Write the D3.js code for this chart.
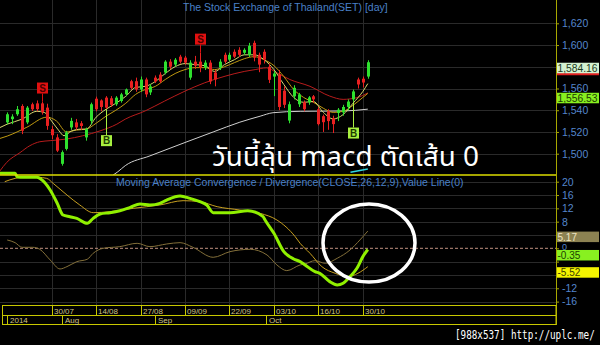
<!DOCTYPE html>
<html>
<head>
<meta charset="utf-8">
<script src="https://cdn.jsdelivr.net/npm/d3@7"></script>
<style>
body{margin:0;background:#000;}
svg{display:block;font-family:Arial,"Liberation Sans",sans-serif;}
</style>
</head>
<body>
<div id="chart"></div>
<script>
// daily candles, bar 0 = 17/07/2014 ... bar 73 = 31/10/2014
var open  = [1528.8,1531.8,1536.3,1543.9,1528.8,1545.5,1546.3,1546.3,1542.4,1522.6,1515,1490.7,1504.4,1524.2,1528.8,1528,1515,1530.2,1550.6,1549,
             1551.6,1551,1545.5,1548.5,1554.6,1566.7,1566.7,1559.1,1568.3,1556.4,1570,1572.8,1574.7,1584.7,1582,1589.3,1588.4,1570,1584.7,1584.7,
             1579.2,1583.8,1574.7,1579.2,1591,1586.5,1593.8,1595.6,1592.9,1591,1602,1591,1593.8,1580,1571,1573,1558,1530.5,1552.8,1545.5,
             1547.3,1547.3,1552.8,1540.9,1534.5,1539,1532.7,1537.5,1538,1543,1550,1568.3,1569,1571];
var high  = [1538,1536.3,1543.9,1545.5,1543.9,1547,1549,1548,1546,1525.6,1518,1503,1521,1533,1532,1530,1524,1547,1552.5,1550,
             1553,1553,1553,1556,1560,1568,1570,1571,1570,1564,1572,1575,1586,1587,1588,1591,1590,1586,1590,1593,
             1586,1586,1577,1587,1593,1593,1596,1598,1597,1602,1604,1593,1596,1583,1576,1577,1562,1548,1563,1556,
             1549,1553,1554,1543,1536,1541,1535,1542,1545,1550,1559,1570,1571,1586];
var low   = [1527,1527.2,1534.8,1518,1527.2,1539.3,1539,1536,1522,1513.5,1501.5,1489,1503,1522,1522,1522,1512,1527,1539,1539,
             1541,1543,1544,1547,1553,1559,1557,1557,1552,1554,1565,1565,1573,1578,1580,1583,1582,1568,1578,1575,
             1577,1564,1562,1577,1583,1585,1588,1589,1591,1589,1585,1575,1583,1565,1553,1540,1542,1528,1550,1543,
             1539,1545,1547,1526,1520,1522,1519,1530,1535,1540,1548,1560,1561,1569];
var close = [1536.3,1534.2,1540.9,1521.1,1542.4,1540.9,1541,1538.3,1525.6,1517,1502.8,1501.4,1519.6,1530.2,1524.2,1525.5,1522.6,1545.5,1540.9,1543,
             1542.4,1545,1551.6,1554.6,1559.1,1560.6,1559.1,1568.3,1554.6,1561.9,1566.5,1566.5,1584.7,1580,1586.5,1584.7,1583.8,1583.8,1581,1579.2,
             1583.8,1566.5,1568.3,1584.7,1584.7,1591,1589.3,1591,1595.6,1599.3,1588.4,1582,1586.5,1568,1573.8,1543,1545,1545.5,1560.6,1554.6,
             1540.9,1551.8,1550,1527.2,1529,1530,1527.2,1540.5,1543,1548,1557.3,1563.7,1565.5,1584.16];

// moving averages as [bar, value]
var ma5 = [[-1.5,1524],[0,1527.2],[3,1531.8],[6,1539],[7.5,1538],[9,1530],[10.5,1521],[11.5,1516.5],[13,1520.8],[15,1522.6],[16,1522.6],
           [18,1533.6],[20,1540.9],[22,1546.4],[24,1552.8],[26,1561],[28,1562],[30,1566.5],[32,1573.8],[34,1580.1],[36,1582.9],[38,1582],
           [40,1581],[42,1575.6],[44,1582],[46,1586.5],[48,1591],[50,1591],[52,1586.5],[54,1577.4],[56,1563.7],[58,1551.8],[60,1547.3],
           [62,1548],[64,1538],[66,1532],[68,1536],[70,1546.4],[72,1557.3],[73,1564.5]];
var ma10 = [[-1.5,1514],[0,1516.2],[4,1524.4],[8,1533.6],[10,1530],[12,1520],[14,1521.7],[16,1522.6],[18,1528],[20,1534.5],[22,1540],
            [24,1546.4],[26,1554.6],[28,1559.1],[30,1562],[32,1568.3],[34,1573.8],[36,1577.4],[38,1579.2],[40,1579.2],[42,1577.4],[44,1580.1],
            [46,1583.8],[48,1587.4],[50,1589.3],[52,1586.5],[54,1581],[56,1571],[58,1559.1],[60,1551.8],[62,1547.3],[64,1541.8],[66,1538],
            [68,1539],[70,1544.5],[72,1551.8],[73,1555.5]];
var ma25 = [[-1.5,1484],[-0.1,1492],[2.6,1501],[4.6,1507.4],[6.6,1511],[8.7,1512],[12,1513.5],[15.3,1516.5],[18.8,1521],[22.2,1527.2],
            [23.9,1531.8],[27.9,1539.3],[31.9,1548.5],[36,1557.6],[40,1565.3],[44.1,1571.3],[48.1,1575.8],[50.2,1577.4],[52.5,1579],
            [54.6,1574.4],[57.2,1568.3],[61.3,1562],[65.3,1553],[68,1550],[70.8,1551.6],[73,1556]];
var ma75 = [[20,1476],[22.4,1483.4],[23.9,1489],[28.9,1498],[36.4,1511],[41.7,1520],[47.1,1529],[51.2,1534.5],[53.8,1537.7],
            [59.3,1539],[68,1539.3],[73,1541]];
var cyanLine = [[69.5,1483],[73,1486]];

// MACD(26,12,9) as [bar, value]
var macd = [[-1.5,22.5],[1.6,22.5],[2,21.5],[2.6,21.3],[6,21.3],[6.6,21],[8.7,17.5],[10.1,13.6],[11.3,10],[12.7,9.5],[14.1,9],[16.2,7.5],
            [17.4,9],[18.8,10.3],[20.8,10.7],[22.8,11.3],[24.9,12.3],[26.9,13.3],[28.9,13],[30.9,13.5],[32.3,14.5],[35,15.7],[37,15],
            [39,14],[40.4,13],[41.7,10.7],[45.1,10.7],[48.7,11.3],[51.8,9.5],[52.2,8.5],[54,4.5],[56,-1],[58,-3.2],[59.3,-4],[60.3,-5],
            [62.3,-7],[63.3,-7.5],[65.3,-10],[66.8,-11],[68,-10.5],[69.4,-8.5],[70.8,-6],[72,-2.5],[73,-0.35]];
var signal = [[-0.5,20],[1.6,21],[4.6,21.5],[8,21],[9.3,19.5],[12.1,16],[14.7,13],[17.4,10.7],[20.8,11],[25.5,12],[30.9,13],[35.6,14.3],
              [39,14],[42.5,12.5],[47.1,11.5],[51.2,10.5],[54.6,8.5],[58.3,3.5],[59.3,1.5],[61.3,-1.5],[63.7,-5.5],[66.4,-7.5],[69,-8.5],
              [71,-7.5],[73,-5.52]];
var hist = [[0,2.5],[1.6,1.7],[3,0.3],[5.2,0.3],[6.6,-0.3],[8.7,-3.5],[10.7,-6.2],[12.1,-5.5],[14.1,-4],[16.2,-3.3],[17.4,-1.5],[19.4,0],
            [22.8,0.5],[26.3,1.5],[28.9,0.5],[32.3,1.3],[35,1.7],[37.6,0.3],[41.7,-2.7],[45.1,-1],[49.2,-0.3],[52.6,-2],[54.6,-5],
            [56.6,-6.7],[59.3,-5],[60.3,-4.7],[62.3,-3.7],[64.4,-4.5],[66.8,-3],[69.4,-0.5],[71.4,2.5],[73,5.17]];

var signals = [{i:7,t:'S'},{i:20,t:'B'},{i:39,t:'S'},{i:70,t:'B'}];

var dateTicks = [9,18,27,36,45,54,63,72];
var dateLabels = ['30/07','14/08','27/08','09/09','22/09','03/10','16/10','30/10'];
var monthTicks = [-0.1,11,30,52.3];
var monthLabels = ['2014','Aug','Sep','Oct'];
var priceTicks = [1500,1520,1540,1560,1580,1600,1620];
var macdTicks = [20,16,12,8,4,0,-4,-8,-12,-16];
// tick labels covered by the last-value boxes
var hiddenTicks = [1580,4,-4,-8];

var priceLabels = [{v:1584.16,txt:'1,584.16',bg:'#d4f2d0',fg:'#1c3a1c'},{v:1556.53,txt:'1,556.53',bg:'#88f020',fg:'#1c3a00'}];
var macdLabels = [{v:5.17,txt:'5.17',bg:'#8c8252',fg:'#ece4c4'},{v:-0.35,txt:'-0.35',bg:'#88f020',fg:'#1c4000'},{v:-5.52,txt:'-5.52',bg:'#f4f400',fg:'#3c3c00'}];

var W = 600, H = 345, axisX = 556;

var svg = d3.select('#chart').append('svg')
  .attr('width', W)
  .attr('height', H);

svg.append('rect').attr('width', W).attr('height', H).attr('fill', '#000');

var x = d3.scaleLinear().domain([0, 73]).range([7.2, 367.8]);
var yP = d3.scaleLinear().domain([1500, 1620]).range([153.7, 23.3]);
var yM = d3.scaleLinear().domain([-16, 20]).range([301.6, 181.7]);

var defs = svg.append('defs');
defs.append('clipPath').attr('id', 'clipTop')
  .append('rect').attr('x', 0).attr('y', 0).attr('width', axisX).attr('height', 175);
defs.append('clipPath').attr('id', 'clipBot')
  .append('rect').attr('x', 0).attr('y', 171).attr('width', axisX).attr('height', 134);

// grid
var grid = svg.append('g').attr('stroke', '#2a2a2a').attr('stroke-width', 1);
grid.selectAll('.hp').data(priceTicks).enter().append('line')
  .attr('x1', 0).attr('x2', axisX)
  .attr('y1', function(d){ return Math.round(yP(d)) + 0.5; })
  .attr('y2', function(d){ return Math.round(yP(d)) + 0.5; });
grid.selectAll('.hm').data(macdTicks.filter(function(d){ return d != 0; })).enter().append('line')
  .attr('x1', 0).attr('x2', axisX)
  .attr('y1', function(d){ return Math.round(yM(d)) + 0.5; })
  .attr('y2', function(d){ return Math.round(yM(d)) + 0.5; });
grid.selectAll('.v').data(dateTicks).enter().append('line')
  .attr('y1', 0).attr('y2', 306)
  .attr('x1', function(d){ return Math.round(x(d)) + 0.5; })
  .attr('x2', function(d){ return Math.round(x(d)) + 0.5; });

// upper panel
var upper = svg.append('g').attr('clip-path', 'url(#clipTop)');
var lineP = d3.line().x(function(d){ return x(d[0]); }).y(function(d){ return yP(d[1]); }).curve(d3.curveMonotoneX);

upper.append('path').datum(ma75).attr('d', lineP).attr('fill', 'none').attr('stroke', '#cfcfcf').attr('stroke-width', 1);
upper.append('path').datum(ma25).attr('d', lineP).attr('fill', 'none').attr('stroke', '#b81c1c').attr('stroke-width', 1);
upper.append('path').datum(ma10).attr('d', lineP).attr('fill', 'none').attr('stroke', '#c09a10').attr('stroke-width', 1);
upper.append('path').datum(ma5).attr('d', lineP).attr('fill', 'none').attr('stroke', '#d8d870').attr('stroke-width', 1);
upper.append('path').datum(cyanLine).attr('d', lineP).attr('fill', 'none').attr('stroke', '#30d8e0').attr('stroke-width', 1.5);

var bars = upper.selectAll('.candle').data(d3.range(open.length)).enter().append('g');
bars.append('line')
  .attr('x1', function(i){ return Math.round(x(i)) + 0.5; })
  .attr('x2', function(i){ return Math.round(x(i)) + 0.5; })
  .attr('y1', function(i){ return yP(high[i]); })
  .attr('y2', function(i){ return yP(low[i]); })
  .attr('stroke', function(i){ return close[i] >= open[i] ? '#2ee02e' : '#e82020'; });
bars.append('rect')
  .attr('x', function(i){ return Math.round(x(i)) - 1; })
  .attr('width', 3)
  .attr('y', function(i){ return yP(Math.max(open[i], close[i])); })
  .attr('height', function(i){ return Math.max(1, Math.abs(yP(open[i]) - yP(close[i]))); })
  .attr('fill', function(i){ return close[i] >= open[i] ? '#2ee02e' : '#e82020'; });

// buy / sell markers
var mk = svg.selectAll('.mk').data(signals).enter().append('g');
mk.append('line')
  .attr('x1', function(d){ return Math.round(x(d.i)) + 0.5; })
  .attr('x2', function(d){ return Math.round(x(d.i)) + 0.5; })
  .attr('y1', function(d){ return d.t == 'S' ? yP(high[d.i]) - 8 : yP(low[d.i]); })
  .attr('y2', function(d){ return d.t == 'S' ? yP(high[d.i]) : yP(low[d.i]) + 26; })
  .attr('stroke', function(d){ return d.t == 'S' ? '#e01010' : '#a8f040'; });
mk.append('rect')
  .attr('x', function(d){ return Math.round(x(d.i)) - 5; })
  .attr('y', function(d){ return d.t == 'S' ? yP(high[d.i]) - 19 : yP(low[d.i]) + 26; })
  .attr('width', 11).attr('height', 11)
  .attr('fill', function(d){ return d.t == 'S' ? '#e01010' : '#a8f040'; });
mk.append('text')
  .attr('x', function(d){ return Math.round(x(d.i)) + 0.5; })
  .attr('y', function(d){ return d.t == 'S' ? yP(high[d.i]) - 10 : yP(low[d.i]) + 35; })
  .attr('text-anchor', 'middle')
  .attr('font-size', 10).attr('font-weight', 'bold')
  .attr('fill', function(d){ return d.t == 'S' ? '#4a0000' : '#1c3c00'; })
  .text(function(d){ return d.t; });

// lower panel
var lower = svg.append('g').attr('clip-path', 'url(#clipBot)');
var lineM = d3.line().x(function(d){ return x(d[0]); }).y(function(d){ return yM(d[1]); }).curve(d3.curveMonotoneX);

lower.append('line')
  .attr('x1', 0).attr('x2', axisX)
  .attr('y1', yM(0)).attr('y2', yM(0))
  .attr('stroke', '#c09080').attr('stroke-dasharray', '3,2');
lower.append('path').datum(hist).attr('d', lineM).attr('fill', 'none').attr('stroke', '#84703a').attr('stroke-width', 1);
lower.append('path').datum(signal).attr('d', lineM).attr('fill', 'none').attr('stroke', '#c8a020').attr('stroke-width', 1);
lower.append('path').datum(macd).attr('d', lineM).attr('fill', 'none').attr('stroke', '#90f000').attr('stroke-width', 3);

// separators and axis lines
svg.append('line').attr('x1', 0).attr('x2', axisX).attr('y1', 175).attr('y2', 175)
  .attr('stroke', '#dcdc00').attr('stroke-width', 1.5);
svg.append('line').attr('x1', axisX + 0.5).attr('x2', axisX + 0.5).attr('y1', 0).attr('y2', 325)
  .attr('stroke', '#a8a800');

// price axis
var fmtP = d3.format(',');
var axP = svg.append('g').attr('transform', 'translate(' + axisX + ',0)')
  .call(d3.axisRight(yP).tickValues(priceTicks).tickSize(3).tickPadding(3)
    .tickFormat(function(d){ return hiddenTicks.indexOf(d) >= 0 ? '' : fmtP(d); }));
var axM = svg.append('g').attr('transform', 'translate(' + axisX + ',0)')
  .call(d3.axisRight(yM).tickValues(macdTicks).tickSize(3).tickPadding(3)
    .tickFormat(function(d){ return hiddenTicks.indexOf(d) >= 0 ? '' : d; }));
[axP, axM].forEach(function(a){
  a.select('.domain').remove();
  a.selectAll('line').attr('stroke', '#a8a800');
  a.selectAll('text').attr('fill', '#5486cc').attr('font-size', 10.5)
    .attr('font-family', 'Arial, "Liberation Sans", sans-serif');
});
axM.selectAll('text').filter(function(d){ return d == 0; }).attr('font-size', 9).attr('dy', '0.1em');

// last value labels
function valueBox(list, sc) {
  var g = svg.selectAll(null).data(list).enter().append('g');
  g.append('rect')
    .attr('x', axisX + 1).attr('width', 42)
    .attr('y', function(d){ return sc(d.v) + 0.5; }).attr('height', 10.5)
    .attr('fill', function(d){ return d.bg; });
  g.append('text')
    .attr('x', axisX + 1.5).attr('y', function(d){ return sc(d.v) + 9.5; })
    .attr('font-size', 10).attr('fill', function(d){ return d.fg; })
    .attr('textLength', function(d){ return d.txt.length > 5 ? 40 : null; })
    .attr('lengthAdjust', 'spacingAndGlyphs')
    .text(function(d){ return d.txt; });
  return g;
}
svg.append('rect').attr('x', axisX + 1).attr('width', 42)
  .attr('y', yP(priceLabels[0].v) + 10).attr('height', 3).attr('fill', '#e02020');
valueBox(priceLabels, yP);
valueBox(macdLabels, yM);

// date rows
var dates = svg.append('g');
dates.append('rect').attr('x', 2.5).attr('y', 305.5).attr('width', axisX - 2.5).attr('height', 19)
  .attr('fill', 'none').attr('stroke', '#c8c800');
dates.append('line').attr('x1', 2.5).attr('x2', axisX).attr('y1', 315.5).attr('y2', 315.5).attr('stroke', '#c8c800');
dates.selectAll('.dl').data(dateTicks).enter().append('line')
  .attr('x1', function(d){ return Math.round(x(d)) + 0.5; })
  .attr('x2', function(d){ return Math.round(x(d)) + 0.5; })
  .attr('y1', 305.5).attr('y2', 315.5).attr('stroke', '#c8c800');
dates.selectAll('.dt').data(dateTicks).enter().append('text')
  .attr('x', function(d){ return Math.round(x(d)) + 2; })
  .attr('y', 313.5).attr('font-size', 8).attr('fill', '#d0c488')
  .text(function(d, i){ return dateLabels[i]; });
dates.selectAll('.ml').data(monthTicks).enter().append('line')
  .attr('x1', function(d){ return Math.round(x(d)) + 0.5; })
  .attr('x2', function(d){ return Math.round(x(d)) + 0.5; })
  .attr('y1', 315.5).attr('y2', 324.5).attr('stroke', '#c8c800');
dates.selectAll('.mt').data(monthTicks).enter().append('text')
  .attr('x', function(d){ return Math.round(x(d)) + 3; })
  .attr('y', 323).attr('font-size', 8).attr('fill', '#d0c488')
  .text(function(d, i){ return monthLabels[i]; });

// titles
svg.append('text').attr('x', 183).attr('y', 11).attr('font-size', 10.5).attr('fill', '#4a80c8')
  .text('The Stock Exchange of Thailand(SET) [day]');
svg.append('text').attr('x', 116).attr('y', 186).attr('font-size', 10.5).attr('fill', '#4a80c8')
  .text('Moving Average Convergence / Divergence(CLOSE,26,12,9),Value Line(0)');

// annotation
svg.append('text').attr('x', 212).attr('y', 166)
  .attr('font-family', 'Tahoma, "Noto Sans Thai", "Noto Sans", "DejaVu Sans", sans-serif')
  .attr('font-size', 27).attr('fill', '#fff')
  .attr('textLength', 267).attr('lengthAdjust', 'spacingAndGlyphs')
  .text('วันนี้ลุ้น macd ตัดเส้น 0');
svg.append('ellipse').attr('cx', 369).attr('cy', 243).attr('rx', 46).attr('ry', 39)
  .attr('fill', 'none').attr('stroke', '#fff').attr('stroke-width', 3.5);

svg.append('text').attr('transform', 'translate(455,339) scale(1,1.3)')
  .attr('font-family', '"DejaVu Sans Mono", monospace').attr('font-size', 9.3).attr('fill', '#fff')
  .text('[988x537] http://uplc.me/');
</script>
</body>
</html>
